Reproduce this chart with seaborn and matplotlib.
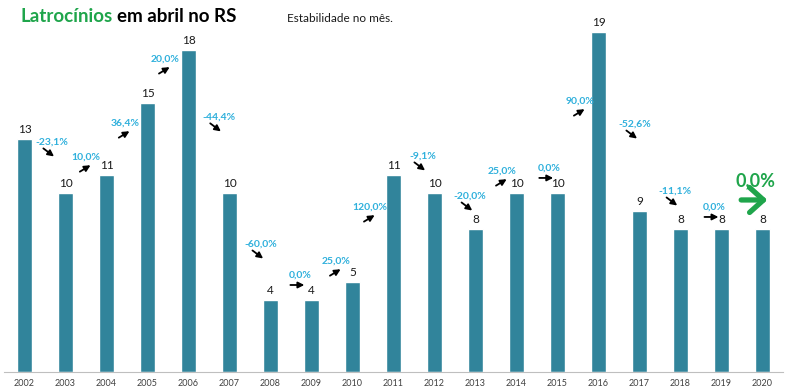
import numpy as np
import pandas as pd
import matplotlib.pyplot as plt
import seaborn as sns

sns.set_style("white")
plt.rcParams['font.family'] = ['Lato', 'DejaVu Sans']

# data
years = ['2002', '2003', '2004', '2005', '2006', '2007', '2008', '2009', '2010', '2011',
         '2012', '2013', '2014', '2015', '2016', '2017', '2018', '2019', '2020']
cases = [13, 10, 11, 15, 18, 10, 4, 4, 5, 11, 10, 8, 10, 10, 19, 9, 8, 8, 8]

# where the year-to-year change labels sit (data coords of text centre)
change_pos = [(0.67, 12.85), (1.50, 12.01), (2.45, 13.91), (3.43, 17.49), (4.74, 14.25),
              (5.77, 7.15), (6.72, 5.42), (7.60, 6.20), (8.43, 9.22), (9.72, 12.07),
              (10.87, 9.83), (11.65, 11.23), (12.79, 11.40), (13.55, 15.14), (14.89, 13.85),
              (15.87, 10.11), (16.82, 9.22), (17.82, 10.67)]

BAR = '#31849b'
CYAN = '#2fb0dc'
GREEN = '#1fa54b'

df = pd.DataFrame({'ano': years, 'casos': cases})

fig = plt.figure(figsize=(8, 3.91), dpi=100)
ax = fig.add_axes([4 / 800, 19 / 391, 779 / 800, 372 / 391])
sns.barplot(data=df, x='ano', y='casos', color=BAR, width=0.39, saturation=1, ax=ax)
ax.set_ylim(0, 20.78)
ax.set_xlim(-0.5, len(years) - 0.5)

# value labels
for i, v in enumerate(cases):
    ax.annotate(str(v), (i, v), xytext=(0, 3), textcoords='offset points',
                ha='center', va='bottom', fontsize=8.5, color='#1a1a1a')

# percentage changes + arrows
for i in range(len(cases) - 1):
    p = (cases[i + 1] - cases[i]) / cases[i] * 100
    txt = f"{p:.1f}%".replace('.', ',')
    xt, yt = change_pos[i]
    if i == len(cases) - 2:
        ax.text(xt, yt, txt, ha='center', va='center', fontsize=13,
                fontweight='bold', color=GREEN)
        ax.annotate('', xy=(xt + 0.3, yt - 1.06), xytext=(xt - 0.34, yt - 1.06),
                    arrowprops=dict(arrowstyle='->, head_length=0.5, head_width=0.45',
                                    color=GREEN, lw=3.8, mutation_scale=20,
                                    shrinkA=0, shrinkB=0))
        continue
    ax.text(xt, yt, txt, ha='center', va='center', fontsize=7.5,
            fontweight='bold', color=CYAN)
    if p > 0:
        start, end = (xt - 0.15, yt - 0.82), (xt + 0.11, yt - 0.46)
    elif p < 0:
        start, end = (xt - 0.21, yt - 0.36), (xt + 0.05, yt - 0.81)
    else:
        start, end = (xt - 0.235, yt - 0.56), (xt + 0.105, yt - 0.56)
    ax.annotate('', xy=end, xytext=start,
                arrowprops=dict(arrowstyle='-|>', color='black', lw=1.3,
                                mutation_scale=9, shrinkA=0, shrinkB=0))

# axes styling
for s in ['left', 'right', 'top']:
    ax.spines[s].set_visible(False)
ax.spines['bottom'].set_color('#bfbfbf')
ax.set_yticks([])
ax.set_xlabel('')
ax.set_ylabel('')
ax.set_xticks(np.arange(-0.5, len(years), 1), minor=True)
ax.tick_params(axis='x', which='major', length=0, pad=5, labelsize=6.5, labelcolor='#404040')
ax.tick_params(axis='x', which='minor', length=3, color='#bfbfbf', direction='out')

# title
t1 = fig.text(20 / 800, 1 - 16 / 391, 'Latrocínios', fontsize=13.5, fontweight='bold',
              color=GREEN, va='center', ha='left')
fig.canvas.draw()
bb = t1.get_window_extent()
fig.text((bb.x1 + 5) / 800, 1 - 16 / 391, 'em abril no RS', fontsize=13.5,
         fontweight='bold', color='black', va='center', ha='left')
fig.text(287 / 800, 1 - 19 / 391, 'Estabilidade no mês.', fontsize=8.5, color='#1a1a1a',
         va='center', ha='left')

fig.savefig('out.png', dpi=100, facecolor='white')
